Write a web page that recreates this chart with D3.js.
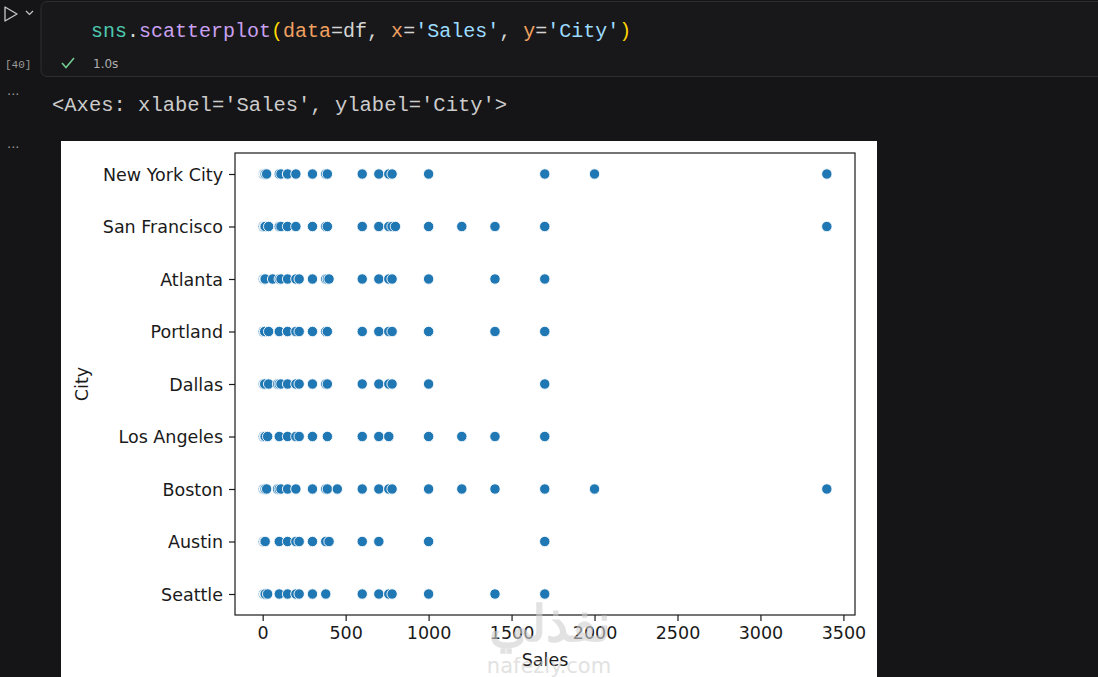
<!DOCTYPE html>
<html>
<head>
<meta charset="utf-8">
<script src="https://cdn.jsdelivr.net/npm/d3@7"></script>
<style>
  html, body { margin: 0; padding: 0; background: #151517; overflow: hidden; }
  svg { display: block; }
</style>
</head>
<body>
<svg id="page" width="1098" height="677"></svg>
<script>
// ---------- data ----------
const cities = ["New York City", "San Francisco", "Atlanta", "Portland", "Dallas",
                "Los Angeles", "Boston", "Austin", "Seattle"];
const salesNYC = [2.99, 3.84, 5.98, 11.95, 11.99, 14.95, 23.9, 99.99, 109.99, 149.99, 150, 199.98, 300, 379.99, 389.99, 600, 700, 759.98, 779.98, 999.99, 1700, 1999.98, 3400];
const salesSF = [2.99, 3.84, 11.95, 11.99, 14.95, 35.88, 99.99, 109.99, 149.99, 199.98, 300, 379.99, 389.99, 600, 700, 759.98, 779.98, 800, 999.99, 1200, 1400, 1700, 3400];
const salesAtlanta = [2.99, 3.84, 11.95, 11.99, 14.95, 59.8, 99.99, 109.99, 149.99, 199.98, 219.98, 300, 379.99, 389.99, 400, 600, 700, 759.98, 779.98, 999.99, 1400, 1700];
const salesPortland = [2.99, 3.84, 11.95, 11.99, 35.88, 99.99, 149.99, 150, 199.98, 219.98, 300, 379.99, 389.99, 600, 700, 759.98, 779.98, 999.99, 1400, 1700];
const salesDallas = [2.99, 3.84, 11.95, 11.99, 35.88, 89.7, 99.99, 109.99, 149.99, 199.98, 219.98, 300, 379.99, 389.99, 600, 700, 759.98, 779.98, 999.99, 1700];
const salesLA = [3.84, 11.95, 11.99, 14.95, 29.9, 99.99, 149.99, 199.98, 219.98, 300, 389.99, 600, 700, 759.98, 999.99, 1200, 1400, 1700];
const salesBoston = [2.99, 3.84, 11.95, 11.99, 14.95, 23.9, 89.7, 99.99, 109.99, 149.99, 199.98, 300, 379.99, 389.99, 450, 600, 700, 759.98, 779.98, 999.99, 1200, 1400, 1700, 1999.98, 3400];
const salesAustin = [3.84, 11.95, 11.99, 14.95, 99.99, 149.99, 199.98, 219.98, 300, 379.99, 400, 600, 700, 999.99, 1700];
const salesSeattle = [3.84, 11.95, 11.99, 14.95, 29.9, 99.99, 149.99, 199.98, 219.98, 300, 379.99, 600, 700, 759.98, 779.98, 999.99, 1400, 1700];
const salesByCity = [salesNYC, salesSF, salesAtlanta, salesPortland, salesDallas,
                     salesLA, salesBoston, salesAustin, salesSeattle];
const xTicks = [0, 500, 1000, 1500, 2000, 2500, 3000, 3500];
const xLabel = "Sales";
const yLabel = "City";
const codeTokens = [
  ["sns", "#4ec9b0"], [".", "#d4d4d4"], ["scatterplot", "#c9a0f0"], ["(", "#ffd700"],
  ["data", "#f0a060"], ["=df, ", "#d4d4d4"], ["x", "#f0a060"], ["=", "#d4d4d4"],
  ["'Sales'", "#9cdcfe"], [", ", "#d4d4d4"], ["y", "#f0a060"], ["=", "#d4d4d4"],
  ["'City'", "#9cdcfe"], [")", "#ffd700"]
];
const outputText = "<Axes: xlabel='Sales', ylabel='City'>";

// ---------- notebook chrome ----------
const svg = d3.select("#page");
const mono = "'Liberation Mono', 'DejaVu Sans Mono', monospace";
const sans = "'DejaVu Sans', sans-serif";

svg.append("rect").attr("width", 1098).attr("height", 677).attr("fill", "#151517");

// code cell box
svg.append("rect").attr("x", 41).attr("y", 1.5).attr("width", 1080).attr("height", 75)
  .attr("rx", 6).attr("fill", "#18181a").attr("stroke", "#2e2e31").attr("stroke-width", 1);

// run icon
svg.append("path").attr("d", "M5,7 L5,21 L17,14 Z").attr("fill", "none")
  .attr("stroke", "#c8c8c8").attr("stroke-width", 1.3).attr("stroke-linejoin", "round");
svg.append("path").attr("d", "M26,11 L29.5,14.5 L33,11").attr("fill", "none")
  .attr("stroke", "#c8c8c8").attr("stroke-width", 1.2);

// code line
const codeText = svg.append("text").attr("x", 91).attr("y", 37)
  .attr("font-family", mono).attr("font-size", 20);
codeTokens.forEach(([t, c]) => codeText.append("tspan").attr("fill", c).text(t));

// execution count and status
svg.append("text").attr("x", 5).attr("y", 68).attr("font-family", mono)
  .attr("font-size", 11).attr("fill", "#9a9a9a").text("[40]");
svg.append("path").attr("d", "M62,63 L66,67.5 L74,58").attr("fill", "none")
  .attr("stroke", "#73c991").attr("stroke-width", 1.6);
svg.append("text").attr("x", 93).attr("y", 68).attr("font-family", sans)
  .attr("font-size", 12).attr("fill", "#b0b0b0").text("1.0s");

// output ellipsis marks
[99, 152].forEach(yy => svg.append("text").attr("x", 7).attr("y", yy)
  .attr("font-family", sans).attr("font-size", 13).attr("fill", "#9a9a9a").text("···"));

svg.append("text").attr("x", 52).attr("y", 111).attr("font-family", mono)
  .attr("font-size", 20.5).attr("fill", "#cccccc").text(outputText);

// ---------- figure ----------
svg.append("rect").attr("x", 61).attr("y", 141).attr("width", 816).attr("height", 540)
  .attr("fill", "#ffffff");

const m = { left: 235, right: 855, top: 153, bottom: 615 };
const allVals = salesByCity.flat();
const lo = d3.min(allVals), hi = d3.max(allVals), pad = (hi - lo) * 0.05;
const x = d3.scaleLinear().domain([lo - pad, hi + pad]).range([m.left, m.right]);
const y = d3.scalePoint().domain(cities).range([m.top, m.bottom]).padding(0.4);

const g = svg.append("g");

// points
const pts = [];
cities.forEach((c, i) => salesByCity[i].forEach(v => pts.push({ city: c, sales: v })));
g.append("g").selectAll("circle").data(pts).join("circle")
  .attr("cx", d => x(d.sales)).attr("cy", d => y(d.city)).attr("r", 5.2)
  .attr("fill", "#1f77b4").attr("stroke", "#ffffff").attr("stroke-width", 0.9);

// frame
g.append("rect").attr("x", m.left).attr("y", m.top)
  .attr("width", m.right - m.left).attr("height", m.bottom - m.top)
  .attr("fill", "none").attr("stroke", "#1a1a1a").attr("stroke-width", 1.2);

// axes
const yAxis = g.append("g").attr("transform", `translate(${m.left},0)`)
  .call(d3.axisLeft(y).tickSize(6).tickPadding(6));
const xAxis = g.append("g").attr("transform", `translate(0,${m.bottom})`)
  .call(d3.axisBottom(x).tickValues(xTicks).tickFormat(d3.format("d")).tickSize(6).tickPadding(6));
[yAxis, xAxis].forEach(a => {
  a.select(".domain").remove();
  a.selectAll(".tick line").attr("stroke", "#1a1a1a").attr("stroke-width", 1.2);
  a.selectAll(".tick text").attr("fill", "#1a1a1a").attr("font-family", sans).attr("font-size", 17.5);
});
yAxis.selectAll(".tick text").attr("dy", "0.35em");

// axis labels
svg.append("text").attr("x", (m.left + m.right) / 2).attr("y", 666)
  .attr("text-anchor", "middle").attr("font-family", sans).attr("font-size", 17.5)
  .attr("fill", "#1a1a1a").text(xLabel);
svg.append("text").attr("transform", `translate(88,${(m.top + m.bottom) / 2}) rotate(-90)`)
  .attr("text-anchor", "middle").attr("font-family", sans).attr("font-size", 17.5)
  .attr("fill", "#1a1a1a").text(yLabel);

// faint watermark present in the reference screenshot
svg.append("text").attr("x", 550).attr("y", 641).attr("text-anchor", "middle")
  .attr("font-family", "'Noto Sans', sans-serif").attr("font-size", 50).attr("font-weight", "bold")
  .attr("fill", "#cfcfcf").attr("opacity", 0.6).text("نفذلي");
svg.append("text").attr("x", 549).attr("y", 673).attr("text-anchor", "middle")
  .attr("font-family", sans).attr("font-size", 21)
  .attr("fill", "#cfcfcf").attr("opacity", 0.6).text("nafezly.com");
</script>
</body>
</html>
